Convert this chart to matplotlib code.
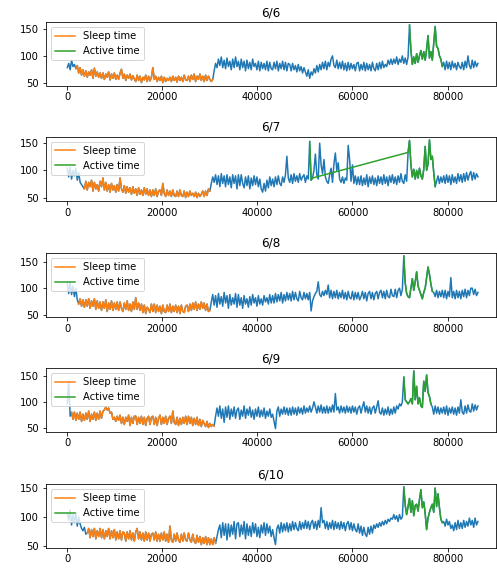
import matplotlib
matplotlib.use('Agg')
import matplotlib.pyplot as plt
import numpy as np

# Sampling interval of the heart-rate series (seconds); one row = one hour
step = 300

days = ['6/6', '6/7', '6/8', '6/9', '6/10']

hr_6_6 = [78, 86, 74, 92, 80, 84, 76, 82, 68, 78, 64, 74,
          62, 72, 60, 70, 64, 74, 58, 77, 62, 70, 60, 68,
          58, 68, 56, 66, 60, 70, 55, 66, 58, 68, 56, 64,
          56, 68, 75, 58, 66, 54, 64, 58, 66, 55, 63, 57,
          52, 64, 54, 62, 50, 60, 55, 64, 52, 62, 53, 60,
          78, 56, 62, 52, 60, 54, 62, 50, 60, 52, 58, 54,
          60, 52, 62, 54, 60, 51, 62, 54, 60, 52, 64, 55,
          54, 62, 52, 64, 56, 66, 52, 62, 56, 66, 54, 62,
          52, 64, 54, 62, 56, 52, 56, 72, 86, 78, 94, 82,
          98, 78, 92, 76, 96, 80, 90, 74, 94, 78, 98, 80,
          90, 74, 94, 78, 90, 72, 92, 76, 88, 74, 94, 80,
          86, 74, 90, 72, 88, 76, 86, 74, 90, 72, 88, 76,
          74, 88, 76, 90, 72, 86, 76, 90, 74, 88, 72, 86,
          84, 72, 86, 74, 82, 70, 84, 72, 80, 68, 78, 70,
          62, 74, 58, 70, 64, 76, 68, 82, 70, 84, 74, 88,
          76, 90, 74, 88, 80, 94, 100, 82, 78, 92, 76, 88,
          76, 90, 74, 86, 72, 88, 74, 86, 76, 84, 72, 86,
          88, 72, 84, 74, 88, 72, 86, 74, 84, 72, 88, 76,
          72, 86, 74, 88, 76, 90, 78, 84, 80, 92, 84, 94,
          84, 94, 86, 98, 84, 94, 88, 100, 86, 96, 84, 98,
          158, 110, 84, 98, 86, 104, 88, 100, 110, 94, 108, 92,
          112, 138, 96, 108, 92, 124, 155, 118, 114, 100, 94, 80,
          88, 74, 90, 76, 88, 74, 90, 78, 86, 74, 88, 80,
          76, 88, 74, 90, 78, 100, 82, 76, 92, 78, 90, 80,
          86]

hr_6_7 = [104, 88, 106, 84, 100, 90, 104, 82, 96, 78, 74, 70,
          66, 80, 64, 78, 70, 82, 62, 78, 66, 74, 62, 80,
          70, 86, 64, 78, 62, 74, 60, 76, 64, 72, 60, 74,
          62, 86, 66, 60, 72, 58, 70, 60, 68, 56, 70, 58,
          66, 54, 68, 56, 64, 54, 68, 56, 66, 54, 64, 52,
          64, 54, 66, 52, 62, 64, 54, 76, 58, 52, 64, 54,
          62, 52, 64, 54, 52, 62, 52, 64, 54, 52, 62, 50,
          60, 52, 62, 54, 58, 52, 60, 50, 58, 52, 56, 62,
          52, 62, 54, 66, 62, 76, 88, 78, 92, 74, 90, 70,
          94, 76, 90, 70, 92, 74, 88, 68, 92, 76, 90, 66,
          92, 72, 92, 76, 68, 88, 72, 90, 66, 86, 72, 90,
          74, 88, 70, 84, 66, 60, 76, 62, 82, 68, 88, 72,
          84, 70, 88, 74, 90, 76, 72, 88, 78, 92, 126, 86,
          78, 92, 76, 94, 80, 90, 78, 94, 82, 88, 92, 78,
          90, 84, 153, 82, 86, 100, 130, 92, 84, 150, 110, 94,
          120, 88, 80, 76, 92, 104, 78, 112, 132, 100, 114, 84,
          78, 88, 76, 86, 82, 146, 120, 80, 110, 76, 90, 74,
          88, 74, 90, 72, 86, 74, 92, 70, 88, 76, 90, 74,
          86, 72, 90, 76, 88, 74, 92, 76, 88, 72, 90, 78,
          92, 76, 88, 74, 90, 78, 94, 80, 76, 92, 80, 133,
          155, 110, 88, 102, 84, 100, 86, 104, 90, 84, 102, 144,
          100, 112, 156, 120, 126, 96, 70, 80, 90, 76, 88, 78,
          90, 76, 92, 78, 90, 74, 92, 78, 88, 76, 94, 80,
          92, 78, 94, 80, 96, 82, 92, 98, 82, 96, 84, 94,
          88]

hr_6_8 = [110, 90, 112, 88, 104, 84, 100, 78, 70, 80, 66, 78,
          64, 78, 66, 80, 62, 76, 66, 80, 60, 76, 62, 74,
          58, 74, 62, 78, 56, 72, 60, 76, 58, 72, 60, 74,
          58, 74, 62, 56, 72, 60, 76, 58, 70, 56, 74, 60,
          82, 60, 72, 58, 70, 54, 68, 52, 64, 60, 54, 70,
          56, 70, 54, 68, 56, 66, 52, 68, 56, 54, 68, 56,
          70, 54, 66, 56, 68, 54, 66, 52, 68, 56, 54, 66,
          68, 56, 70, 58, 72, 60, 74, 58, 70, 60, 74, 62,
          72, 58, 70, 56, 58, 74, 88, 68, 86, 64, 90, 70,
          84, 66, 92, 72, 86, 62, 88, 68, 82, 70, 90, 64,
          88, 68, 82, 62, 86, 70, 80, 64, 84, 68, 88, 72,
          82, 66, 86, 70, 80, 68, 86, 74, 82, 70, 88, 72,
          86, 72, 90, 74, 88, 76, 92, 72, 88, 76, 92, 78,
          90, 76, 94, 78, 92, 80, 76, 94, 82, 78, 92, 80,
          90, 78, 92, 57, 76, 84, 90, 94, 112, 88, 84, 94,
          86, 96, 88, 106, 82, 96, 80, 94, 82, 96, 80, 92,
          82, 96, 80, 92, 78, 94, 82, 80, 94, 78, 92, 80,
          92, 78, 84, 94, 80, 92, 76, 90, 94, 80, 92, 78,
          90, 94, 80, 92, 96, 82, 94, 80, 96, 84, 82, 98,
          86, 84, 98, 82, 96, 100, 86, 98, 161, 110, 90, 84,
          82, 100, 118, 96, 112, 131, 104, 96, 88, 80, 92, 100,
          120, 140, 126, 108, 94, 92, 84, 96, 82, 94, 84, 96,
          82, 96, 80, 94, 84, 120, 82, 94, 80, 96, 82, 94,
          80, 96, 84, 98, 82, 96, 86, 100, 100, 88, 98, 86,
          92]

hr_6_9 = [96, 140, 72, 80, 66, 80, 64, 78, 66, 80, 62, 76,
          64, 78, 66, 82, 62, 76, 66, 80, 64, 78, 66, 82,
          68, 82, 84, 90, 84, 88, 78, 80, 66, 70, 62, 72,
          64, 74, 58, 70, 56, 70, 62, 74, 54, 70, 58, 72,
          72, 56, 70, 58, 72, 56, 70, 54, 68, 72, 56, 70,
          72, 56, 70, 54, 68, 74, 56, 70, 58, 72, 56, 68,
          72, 58, 82, 60, 56, 70, 54, 68, 56, 70, 58, 72,
          56, 72, 58, 70, 54, 68, 56, 70, 54, 66, 52, 64,
          58, 52, 62, 50, 58, 52, 56, 53, 72, 88, 72, 92,
          68, 86, 60, 90, 70, 92, 66, 86, 72, 90, 68, 84,
          88, 66, 84, 72, 92, 68, 86, 74, 90, 70, 84, 66,
          86, 72, 90, 70, 84, 72, 88, 68, 82, 72, 86, 70,
          76, 62, 48, 82, 90, 72, 86, 76, 90, 76, 88, 74,
          88, 74, 90, 76, 88, 74, 90, 78, 88, 76, 92, 78,
          88, 80, 92, 80, 88, 100, 90, 78, 92, 80, 94, 78,
          90, 78, 92, 78, 90, 80, 94, 80, 116, 84, 90, 78,
          92, 80, 90, 78, 92, 80, 90, 78, 92, 80, 90, 76,
          88, 92, 78, 90, 100, 80, 92, 78, 90, 76, 88, 92,
          78, 90, 102, 80, 76, 88, 74, 86, 76, 90, 74, 86,
          76, 90, 78, 92, 86, 96, 92, 100, 148, 104, 100, 96,
          100, 106, 96, 160, 104, 130, 96, 108, 92, 89, 140, 120,
          152, 118, 110, 96, 90, 76, 92, 78, 90, 76, 88, 78,
          90, 76, 92, 74, 88, 78, 90, 76, 88, 74, 90, 78,
          104, 80, 76, 92, 78, 94, 82, 80, 96, 82, 94, 84,
          92]

hr_6_10 = [106, 94, 112, 86, 104, 90, 108, 84, 100, 88, 80, 76,
           82, 70, 72, 80, 64, 78, 66, 80, 62, 76, 66, 80,
           64, 78, 62, 76, 66, 80, 62, 76, 64, 78, 60, 74,
           62, 76, 60, 74, 72, 58, 74, 62, 76, 60, 72, 58,
           74, 80, 62, 74, 60, 72, 58, 74, 60, 72, 58, 70,
           72, 60, 74, 58, 70, 58, 72, 60, 74, 58, 70, 56,
           84, 60, 56, 70, 58, 72, 60, 56, 70, 58, 72, 60,
           58, 72, 60, 56, 70, 58, 54, 68, 56, 66, 52, 64,
           54, 66, 52, 64, 52, 62, 52, 64, 54, 66, 78, 86,
           64, 90, 68, 88, 60, 88, 66, 86, 70, 92, 62, 88,
           90, 66, 86, 70, 92, 62, 88, 68, 84, 66, 90, 72,
           88, 66, 82, 64, 86, 72, 90, 68, 88, 72, 84, 66,
           78, 64, 52, 80, 86, 72, 90, 74, 88, 76, 90, 74,
           88, 76, 92, 78, 90, 80, 76, 92, 78, 90, 80, 94,
           80, 92, 78, 90, 94, 80, 92, 78, 94, 82, 116, 90,
           94, 80, 92, 78, 90, 80, 94, 78, 92, 80, 90, 78,
           92, 80, 90, 76, 88, 92, 78, 90, 76, 88, 78, 74,
           88, 72, 84, 68, 82, 70, 66, 82, 70, 84, 72, 86,
           80, 88, 82, 90, 84, 92, 86, 94, 88, 96, 92, 98,
           96, 104, 96, 102, 92, 104, 96, 100, 152, 120, 104, 118,
           132, 108, 128, 102, 120, 122, 110, 130, 147, 116, 126, 106,
           78, 98, 108, 116, 122, 108, 150, 118, 140, 116, 96, 90,
           92, 84, 96, 86, 92, 80, 86, 76, 90, 78, 94, 80,
           90, 80, 94, 82, 92, 84, 98, 86, 94, 82, 98, 86,
           92]

# sleep period (start, end) in seconds
sleep_6_6 = (1800, 30600)
sleep_6_7 = (3600, 30000)
sleep_6_8 = (2400, 30000)
sleep_6_9 = (900, 30900)
sleep_6_10 = (4200, 31200)

# active periods in seconds
active_6_6 = [(72000, 78900)]
active_6_7 = [(51000, 51600), (71700, 77400)]
active_6_8 = [(70800, 76800)]
active_6_9 = [(70800, 76500)]
active_6_10 = [(70800, 78900)]

series = [hr_6_6, hr_6_7, hr_6_8, hr_6_9, hr_6_10]
sleeps = [sleep_6_6, sleep_6_7, sleep_6_8, sleep_6_9, sleep_6_10]
actives = [active_6_6, active_6_7, active_6_8, active_6_9, active_6_10]

W, H = 497, 569
fig = plt.figure(figsize=(W / 72, H / 72), dpi=72)
tops = [22, 137, 253, 368, 484]
ax_h = 63.5
left, right = 46, 496

for day, hr, sl, act, top in zip(days, series, sleeps, actives, tops):
    ax = fig.add_axes([left / W, 1 - (top + ax_h) / H, (right - left) / W, ax_h / H])
    hr = np.asarray(hr, dtype=float)
    t = np.arange(len(hr)) * step
    ax.plot(t, hr, color='tab:blue')
    m = (t >= sl[0]) & (t <= sl[1])
    ax.plot(t[m], hr[m], color='tab:orange', label='Sleep time')
    ma = np.zeros(len(t), dtype=bool)
    for a0, a1 in act:
        ma |= (t >= a0) & (t <= a1)
    ax.plot(t[ma], hr[ma], color='tab:green', label='Active time')
    ax.set_xlim(-4480, 90200)
    ax.set_xticks([0, 20000, 40000, 60000, 80000])
    ax.set_yticks([50, 100, 150])
    ax.set_title(day)
    ax.legend(loc='upper left')

fig.savefig('out.png', dpi=72)
